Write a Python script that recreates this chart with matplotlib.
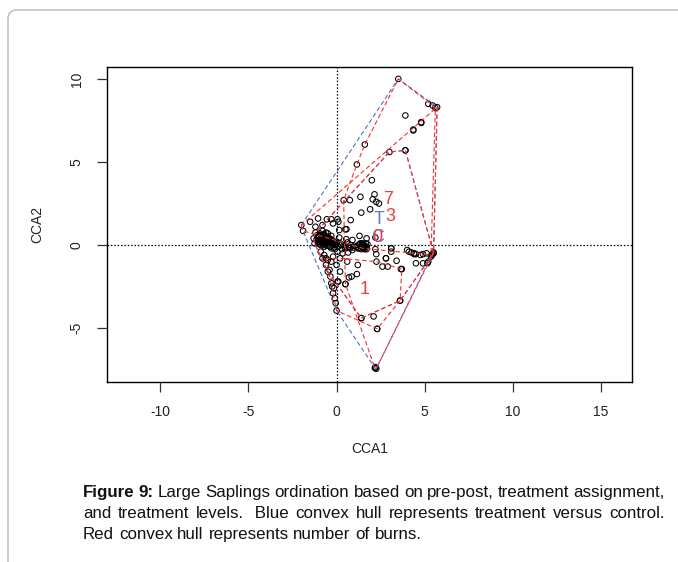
import numpy as np
import matplotlib
matplotlib.use('Agg')
import matplotlib.pyplot as plt
from matplotlib.patches import FancyBboxPatch
from matplotlib.transforms import IdentityTransform

plt.rcParams['font.family'] = ['Liberation Sans', 'DejaVu Sans']
plt.rcParams['axes.unicode_minus'] = False  # R prints a plain hyphen

# site scores (CCA1, CCA2), grouped by number of burns
burn7_x = [-2.0, -1.9, 5.7, 5.5, 1.5, 4.8, 4.35, -1.5, -1.05, -0.55, -0.2, 0.1, 0.8,
           -0.3, 0.05, 0.5, 0.15, 0.56, -1.2, -0.8, 1.3, 2.2, 0.9, 1.7, 5.45, 5.4]
burn7_y = [1.2, 0.85, 8.3, -0.45, -0.2, 7.35, 6.9, 1.4, 1.6, 1.55, 1.3, 1.4, 1.5,
           1.55, 1.55, 0.95, 0.9, 0.95, 1.1, 1.2, 0.55, 0.45, 0.3, 0.4, -0.55, -0.6]

burn3_x = [3.5, 5.45, 5.2, 3.9, 1.6, 1.15, 0.4, 5.35, 2.2, 0.5, 2.0, 2.15, 2.05, 2.25,
           2.4, 1.35, 0.75, 1.9, 1.4, 3.1, 3.1, 2.8, 3.4, 4.4, 4.9, 2.1, 2.3, 5.2,
           5.15, 2.2, 2.25, 4.8, 4.35, 3.9, 2.17, 5.6]
burn3_y = [10.0, 8.4, 8.5, 7.8, 6.05, 4.85, 2.7, -0.7, -7.4, -2.35, 3.9, 3.05, 2.75,
           2.6, 2.5, 2.9, 2.7, 2.15, 1.95, -0.2, -0.4, -0.8, -0.95, -0.55, -0.55,
           -4.3, -5.05, -1.0, -1.1, -7.35, -7.45, 7.4, 6.95, 5.7, -7.4, 8.25]

burn1_x = [-0.6, -0.3, -0.25, -0.2, -0.1, -0.05, 0.0, 1.4, 2.3, 3.6, 3.7, 1.2, 0.2,
           0.7, 0.85, 1.15, 0.05, 0.1, 0.5, 0.6, 2.26, 2.6, 2.9, 3.65, 0.2, 0.0,
           -0.4, -0.35, -0.15]
burn1_y = [-0.8, -2.3, -2.5, -2.9, -3.2, -3.5, -3.95, -4.4, -5.05, -3.35, -1.45, -1.2,
           -1.6, -1.95, -1.9, -1.75, -2.2, -2.2, -2.35, -1.0, -1.0, -1.3, -1.3, -1.45,
           -0.8, -1.2, -1.5, -1.9, -2.6]

burn0_x = [-1.3, -0.5, 1.4, 3.6, 5.5, 3.9, 3.0,
           # dense cluster left of the origin
           -1.2, -1.1, -1.05, -0.95, -0.9, -0.85, -0.8, -0.75, -0.7, -0.65, -0.6, -0.55,
           -0.5, -0.45, -0.4, -0.35, -0.3, -0.25, -0.2, -0.15, -1.0, -0.9, -0.7, -1.15,
           -0.6, -0.8, -0.5, -0.3, -1.25,
           -1.1, -1.0, -0.95, -0.9, -0.85, -0.8, -0.75, -0.7, -0.65, -0.6, -0.55, -0.5,
           -0.45, -0.4, -0.35, -1.05, -0.95, -0.85, -0.75, -0.65, -0.55, -0.45, -0.35,
           -0.25, -0.15, -0.05, -0.1, 0.0,
           # band towards the second cluster
           0.0, 0.1, 0.2, 0.3, 0.4, 0.5, 0.6, 0.7, 0.8, 0.9, 1.0, 0.05, 0.35, 0.65,
           0.15, 0.55, 0.25, 0.45, 0.75, 0.95,
           1.15, 1.25, 1.3, 1.4, 1.45, 1.5, 1.55, 1.6, 1.7, 1.75, 1.35, 1.65,
           1.2, 1.3, 1.4, 1.5, 1.6, 1.7, 1.45, 1.55,
           -0.9, -0.7, -0.5, -0.6, -0.3, -0.2, -0.8,
           2.2, 2.25, 3.1, 2.8, 4.1, 4.4, 4.5, 4.75, 5.1, 4.9, 5.4, 4.5, 4.25, 4.0]
burn0_y = [0.4, -1.6, -4.4, -3.35, -0.5, 5.7, 5.6,
           0.75, 0.6, 0.45, 0.7, 0.35, 0.55, 0.2, 0.45, 0.65, 0.3, 0.1, 0.5,
           0.25, -0.05, 0.4, 0.15, -0.2, 0.3, 0.05, -0.15, 0.2, 0.0, -0.1, 0.3,
           0.75, 0.85, 0.7, 0.55, 0.1,
           0.45, 0.55, 0.3, 0.6, 0.15, 0.4, 0.6, 0.25, 0.5, 0.35, 0.2, 0.45,
           0.3, 0.15, 0.35, 0.1, 0.05, 0.25, 0.0, 0.05, -0.05, 0.15, -0.1,
           0.1, 0.15, 0.0, -0.25, 0.1,
           0.2, -0.1, 0.1, -0.25, 0.0, -0.2, 0.15, -0.1, 0.0, -0.3, -0.05, -0.4, -0.5,
           -0.45, 0.45, 0.35, 0.0, -0.1, -0.2, -0.15,
           -0.1, 0.0, -0.2, -0.05, 0.1, -0.15, 0.0, -0.25, -0.1, 0.05, 0.1, 0.1,
           -0.2, 0.05, -0.25, 0.05, -0.1, -0.25, -0.1, -0.2,
           -0.4, -0.6, -0.9, -1.2, -1.0, -0.7, -0.8,
           -0.25, -0.55, -0.2, -0.8, -0.4, -0.5, -0.55, -0.6, -0.5, -1.1, -0.6, -1.1,
           -0.45, -0.3]

burn_groups = ['0', '1', '3', '7']
treat_groups = ['C', 'T']  # control = 0 burns, treatment = 1, 3, 7 burns


def convex_hull(x, y):
    pts = sorted(set(zip(x, y)))

    def cross(o, a, b):
        return (a[0] - o[0]) * (b[1] - o[1]) - (a[1] - o[1]) * (b[0] - o[0])

    lower, upper = [], []
    for p in pts:
        while len(lower) >= 2 and cross(lower[-2], lower[-1], p) <= 0:
            lower.pop()
        lower.append(p)
    for p in reversed(pts):
        while len(upper) >= 2 and cross(upper[-2], upper[-1], p) <= 0:
            upper.pop()
        upper.append(p)
    return np.array(lower[:-1] + upper[:-1])


def poly_centre(h):
    x, y = h[:, 0], h[:, 1]
    x1, y1 = np.roll(x, -1), np.roll(y, -1)
    c = x * y1 - x1 * y
    a = c.sum() / 2
    return (x + x1) @ c / (6 * a), (y + y1) @ c / (6 * a)


def draw_hull(ax, x, y, label, col, txtcol):
    h = convex_hull(x, y)
    hc = np.vstack([h, h[:1]])
    ax.plot(hc[:, 0], hc[:, 1], color=col, lw=0.8, ls=(0, (4, 2.5)), zorder=3)
    cx, cy = poly_centre(h)
    ax.text(cx, cy, label, color=txtcol, fontsize=13, ha='center', va='center', zorder=4)


data = {'0': (burn0_x, burn0_y), '1': (burn1_x, burn1_y),
        '3': (burn3_x, burn3_y), '7': (burn7_x, burn7_y)}

W, H = 678, 562
fig = plt.figure(figsize=(W / 100, H / 100), dpi=100)
fig.patches.append(FancyBboxPatch((8, -60), 900, H - 10 + 60,
                                  boxstyle='round,pad=0,rounding_size=9',
                                  transform=IdentityTransform(), fill=False,
                                  ec='#c4c4c4', lw=1.2))

ax = fig.add_axes([107.3 / W, 1 - 381.7 / H, (632 - 107.3) / W, (381.7 - 67.3) / H])

all_x = burn0_x + burn1_x + burn3_x + burn7_x
all_y = burn0_y + burn1_y + burn3_y + burn7_y
ax.scatter(all_x, all_y, s=16, facecolors='none', edgecolors='black', linewidths=0.75, zorder=2)
ax.axhline(0, color='black', ls=(0, (1.2, 1.5)), lw=0.9, zorder=1)
ax.axvline(0, color='black', ls=(0, (1.2, 1.5)), lw=0.9, zorder=1)

# treatment vs control hulls (blue)
tx = burn1_x + burn3_x + burn7_x
ty = burn1_y + burn3_y + burn7_y
draw_hull(ax, tx, ty, 'T', '#4f6fc6', '#5a7ccc')
draw_hull(ax, burn0_x, burn0_y, 'C', '#4f6fc6', '#5a7ccc')
# number of burns hulls (red)
for g in burn_groups:
    gx, gy = data[g]
    draw_hull(ax, gx, gy, g, '#ff2a2a', '#f03c3c')

ax.set_xlim(-13.0, 16.75)
ax.set_ylim(-8.23, 10.7)
ax.set_xticks([-10, -5, 0, 5, 10, 15])
ax.set_yticks([-5, 0, 5, 10])
ax.tick_params(length=7, width=0.9, labelsize=10, pad=10, color='#333333', labelcolor='#222222')
for lab in ax.get_yticklabels():
    lab.set_rotation(90)
    lab.set_va('center')
for s in ['top', 'right', 'bottom', 'left']:
    ax.spines[s].set_linewidth(1.0)
ax.set_xlabel('CCA1', fontsize=10, labelpad=16, color='#222222')
ax.set_ylabel('CCA2', fontsize=10, labelpad=18, color='#222222')

# caption, justified like the journal text
renderer = fig.canvas.get_renderer()
lines = [
    ([('Figure', 'bold'), ('9:', 'bold'), ('Large', 'normal'), ('Saplings', 'normal'),
      ('ordination', 'normal'), ('based', 'normal'), ('on', 'normal'), ('pre-post,', 'normal'),
      ('treatment', 'normal'), ('assignment,', 'normal')], True),
    ([('and', 'normal'), ('treatment', 'normal'), ('levels.', 'normal'), (' Blue', 'normal'),
      ('convex', 'normal'), ('hull', 'normal'), ('represents', 'normal'), ('treatment', 'normal'),
      ('versus', 'normal'), ('control.', 'normal')], True),
    ([('Red', 'normal'), ('convex', 'normal'), ('hull', 'normal'), ('represents', 'normal'),
      ('number', 'normal'), ('of', 'normal'), ('burns.', 'normal')], False),
]
x0, x1 = 83, 665
baselines = [497, 518, 539]

# pick the caption size so the first line fits the column with normal spacing
probe = fig.text(0, 0, 'Figure 9: Large Saplings ordination based on pre-post, treatment assignment,',
                 fontsize=12)
cap_size = 12 * (x1 - x0) / probe.get_window_extent(renderer).width
probe.remove()
p1 = fig.text(0, 0, 'a a', fontsize=cap_size)
p2 = fig.text(0, 0, 'aa', fontsize=cap_size)
sp = p1.get_window_extent(renderer).width - p2.get_window_extent(renderer).width
p1.remove()
p2.remove()

for (words, justify), yb in zip(lines, baselines):
    texts, widths = [], []
    for w, wt in words:
        t = fig.text(0, 1 - yb / H, w, fontsize=cap_size, fontweight=wt, va='baseline',
                     color='#111111')
        widths.append(t.get_window_extent(renderer).width)
        texts.append(t)
    gap = (x1 - x0 - sum(widths)) / (len(words) - 1) if justify else sp
    x = x0
    for t, w in zip(texts, widths):
        t.set_x(x / W)
        x += w + gap

fig.savefig('out.png', dpi=100)
